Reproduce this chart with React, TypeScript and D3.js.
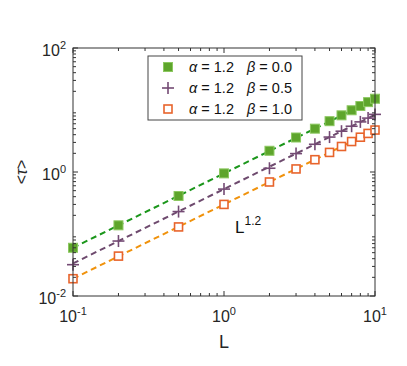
import React from "react";
import { scaleLog, line } from "d3";

const L = [0.1, 0.2, 0.5, 1, 2, 3, 4, 5, 6, 7, 8, 9, 10];
const tauBeta00 = [0.06, 0.138, 0.41, 0.95, 2.2, 3.6, 5.0, 6.6, 8.2, 9.9, 11.6, 13.4, 15.2];
const tauBeta05 = [0.032, 0.077, 0.23, 0.53, 1.15, 1.98, 2.8, 3.66, 4.55, 5.47, 6.43, 7.4, 8.5];
const tauBeta10 = [0.019, 0.044, 0.13, 0.3, 0.69, 1.12, 1.58, 2.07, 2.58, 3.1, 3.64, 4.19, 4.75];
const fitL = [0.1, 10];
const fitBeta00 = [0.06, 15.0];
const fitBeta05 = [0.0335, 8.4];
const fitBeta10 = [0.019, 4.75];
const xMajor = [0.1, 1, 10];
const yMajor = [0.01, 1, 100];

const series = [
  { key: "b00", beta: "0.0", values: tauBeta00, fit: fitBeta00, marker: "filled", markerColor: "#5ea52c", edge: "#8cc860", lineColor: "#1b961b" },
  { key: "b05", beta: "0.5", values: tauBeta05, fit: fitBeta05, marker: "plus", markerColor: "#744a74", edge: "#744a74", lineColor: "#6e4a6e" },
  { key: "b10", beta: "1.0", values: tauBeta10, fit: fitBeta10, marker: "open", markerColor: "#e8642c", edge: "#e8642c", lineColor: "#f0920c" },
];

const W = 407;
const H = 366;
const left = 73, right = 375, top = 48, bottom = 296;
const font = "'Liberation Sans', Arial, Helvetica, sans-serif";

const Marker = ({ type, x, y, color, edge }) => {
  if (type === "plus") {
    return (
      <g stroke={color} strokeWidth={1.6}>
        <line x1={x - 6} x2={x + 6} y1={y} y2={y} />
        <line x1={x} x2={x} y1={y - 6} y2={y + 6} />
      </g>
    );
  }
  if (type === "filled") {
    return <rect x={x - 4.5} y={y - 4.5} width={9} height={9} fill={color} stroke={edge} strokeWidth={1} />;
  }
  return <rect x={x - 4} y={y - 4} width={8} height={8} fill="#fff" stroke={color} strokeWidth={1.6} />;
};

export default function App() {
  const x = scaleLog().domain([0.1, 10]).range([left, right]);
  const y = scaleLog().domain([0.01, 100]).range([bottom, top]);

  const xMinor = [];
  for (const d of [0.1, 1]) for (let k = 2; k <= 9; k++) xMinor.push(d * k);
  const yMinor = [];
  for (const d of [0.01, 0.1, 1, 10]) for (let k = 2; k <= 9; k++) yMinor.push(d * k);

  const fitLine = line<number>()
    .x((_, i) => x(fitL[i]))
    .y((d) => y(d));

  return (
    <div style={{ position: "fixed", left: 0, top: 0 }}>
      <svg width={W} height={H} fontFamily={font} style={{ display: "block", background: "#fff" }}>
        {/* fitted dashed lines */}
        {series.map((s) => (
          <path key={s.key + "fit"} d={fitLine(s.fit)} fill="none" stroke={s.lineColor} strokeWidth={2} strokeDasharray="6 4" />
        ))}

        {/* data markers */}
        {series.map((s) => (
          <g key={s.key}>
            {s.values.map((v, i) => (
              <Marker key={i} type={s.marker} x={x(L[i])} y={y(v)} color={s.markerColor} edge={s.edge} />
            ))}
          </g>
        ))}

        {/* axes box */}
        <rect x={left} y={top} width={right - left} height={bottom - top} fill="none" stroke="#333" strokeWidth={1} />

        {/* x ticks */}
        {xMajor.map((t) => (
          <g key={"xm" + t} stroke="#333">
            <line x1={x(t)} x2={x(t)} y1={bottom} y2={bottom - 5} />
            <line x1={x(t)} x2={x(t)} y1={top} y2={top + 5} />
          </g>
        ))}
        {xMinor.map((t) => (
          <g key={"xn" + t} stroke="#333">
            <line x1={x(t)} x2={x(t)} y1={bottom} y2={bottom - 3} />
            <line x1={x(t)} x2={x(t)} y1={top} y2={top + 3} />
          </g>
        ))}
        {/* y ticks */}
        {yMajor.map((t) => (
          <g key={"ym" + t} stroke="#333">
            <line x1={left} x2={left + 5} y1={y(t)} y2={y(t)} />
            <line x1={right} x2={right - 5} y1={y(t)} y2={y(t)} />
          </g>
        ))}
        {yMinor.map((t) => (
          <g key={"yn" + t} stroke="#333">
            <line x1={left} x2={left + 3} y1={y(t)} y2={y(t)} />
            <line x1={right} x2={right - 3} y1={y(t)} y2={y(t)} />
          </g>
        ))}

        {/* tick labels */}
        {xMajor.map((t) => {
          const e = Math.round(Math.log10(t));
          return (
            <text key={"xl" + t} x={x(t)} y={322} textAnchor="middle" fontSize={16} fill="#262626">
              10<tspan dy={-7} fontSize={11}>{e}</tspan>
            </text>
          );
        })}
        {yMajor.map((t) => {
          const e = Math.round(Math.log10(t));
          return (
            <text key={"yl" + t} x={66} y={y(t) + 8} textAnchor="end" fontSize={16} fill="#262626">
              10<tspan dy={-7} fontSize={11}>{e}</tspan>
            </text>
          );
        })}

        {/* axis labels */}
        <text x={224} y={348} textAnchor="middle" fontSize={18} fill="#262626">L</text>
        <text transform={`translate(27, ${(top + bottom) / 2}) rotate(-90)`} textAnchor="middle" fontSize={16} fill="#262626">
          &lt;<tspan fontStyle="italic">τ</tspan>&gt;
        </text>

        {/* annotation */}
        <text x={235} y={233} fontSize={17} fill="#111">
          L<tspan dy={-8} fontSize={12}>1.2</tspan>
        </text>

        {/* legend */}
        <rect x={148} y={56} width={154} height={64} fill="#fff" stroke="#444" strokeWidth={1} />
        {series.map((s, i) => {
          const ly = 67 + i * 21;
          return (
            <g key={"lg" + s.key}>
              <Marker type={s.marker} x={168} y={ly} color={s.markerColor} edge={s.edge} />
              <text x={189} y={ly + 5} fontSize={14.5} fill="#111">
                <tspan fontStyle="italic">α</tspan> = 1.2
              </text>
              <text x={247} y={ly + 5} fontSize={14.5} fill="#111">
                <tspan fontStyle="italic">β</tspan> = {s.beta}
              </text>
            </g>
          );
        })}
      </svg>
    </div>
  );
}
